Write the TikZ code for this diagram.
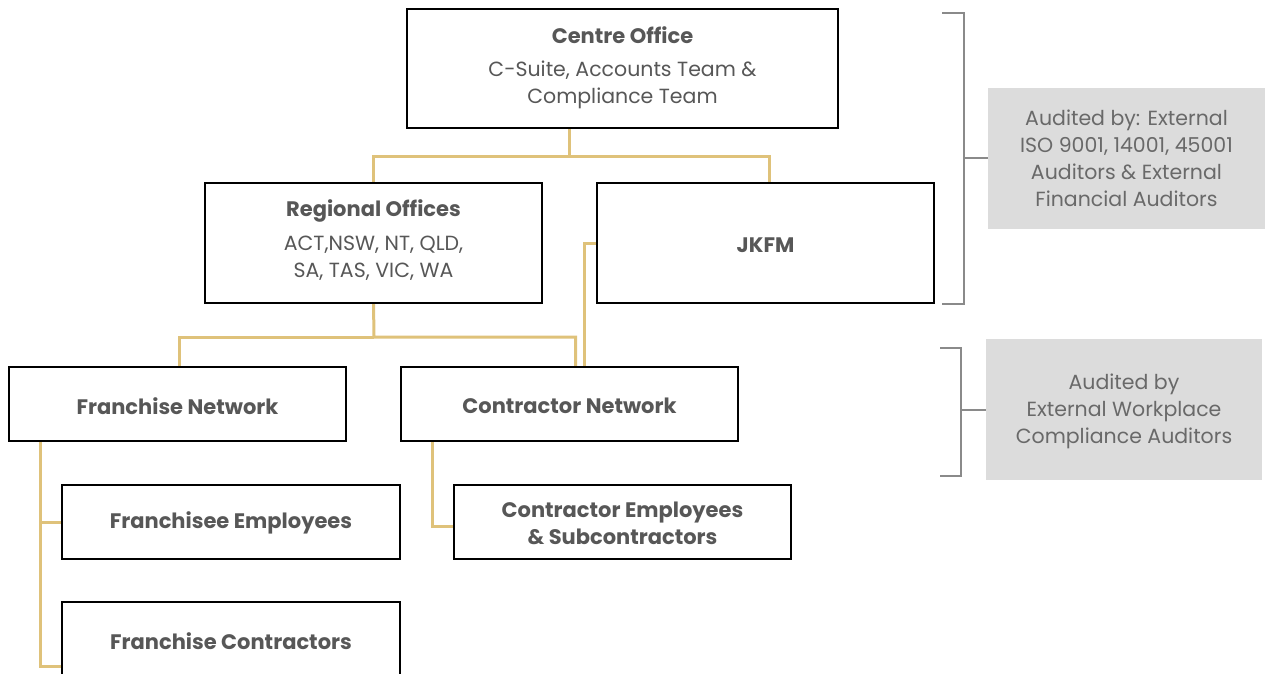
\documentclass[tikz,border=0pt]{standalone}
\usepackage{fontspec}
\setmainfont{Poppins}
\definecolor{gold}{HTML}{DFC27A}
\definecolor{txtgray}{HTML}{575757}
\definecolor{lightgray}{HTML}{696969}
\definecolor{auditfill}{HTML}{DCDCDC}
\definecolor{brgray}{HTML}{8A8A8A}
\begin{document}
\begin{tikzpicture}[x=1pt,y=-1pt,
  box/.style={draw=black, line width=1.1pt, fill=white, inner sep=0pt, outer sep=0pt, anchor=north west},
  audit/.style={fill=auditfill, inner sep=0pt, outer sep=0pt, anchor=north west},
  regtxt/.style={text=txtgray, align=center, font=\fontsize{20.5}{27}\selectfont},
  boldtxt/.style={text=txtgray, align=center, font=\fontsize{21}{27}\bfseries\selectfont},
  audtxt/.style={text=lightgray, align=center, font=\fontsize{20.5}{27}\selectfont},
  conn/.style={draw=gold, line width=3pt},
  bracketline/.style={draw=brgray, line width=1.3pt}]
\useasboundingbox (0,0) rectangle (1266,673);
\clip (0,0) rectangle (1266,673);
% junction coordinates
\coordinate (c1) at (569,156);
\coordinate (c2) at (374,337);
\coordinate (fj) at (40,666);
\coordinate (fe) at (40,522);
\coordinate (ce) at (432,526);
% boxes
\node[box, minimum width=431pt, minimum height=119pt] (centre) at (407,9) {};
\node[box, minimum width=337pt, minimum height=120pt] (regional) at (205,183) {};
\node[box, minimum width=337pt, minimum height=120pt] (jkfm) at (597,183) {};
\node[box, minimum width=337pt, minimum height=74pt] (franchise) at (9,367) {};
\node[box, minimum width=337pt, minimum height=74pt] (contractor) at (401,367) {};
\node[box, minimum width=338pt, minimum height=74pt] (femp) at (62,485) {};
\node[box, minimum width=337pt, minimum height=74pt] (cemp) at (454,485) {};
\node[box, minimum width=338pt, minimum height=100pt] (fcon) at (62,602) {};
% texts
\node[boldtxt] (centret) at (622.5,35) {Centre Office};
\node[regtxt] (centres) at (622.5,85) {C-Suite, Accounts Team \&\\Compliance Team};
\node[boldtxt] (regionalt) at (373.5,211) {Regional Offices};
\node[regtxt] (regionals) at (373.5,258) {ACT,NSW, NT, QLD,\\SA, TAS, VIC, WA};
\node[boldtxt] (jkfmt) at (765.5,245) {JKFM};
\node[boldtxt] (franchiset) at (177.5,406) {Franchise Network};
\node[boldtxt] (contractort) at (569.5,406) {Contractor Network};
\node[boldtxt] (fempt) at (231,523) {Franchisee Employees};
\node[boldtxt] (cempt) at (622.5,523) {Contractor Employees\\\& Subcontractors};
\node[boldtxt] (fcont) at (231,641) {Franchise Contractors};
% gold connectors
\draw[conn] (c1 |- centre.south) -- (c1) -| (regional.north);
\draw[conn] (c1) -| ([xshift=4pt]jkfm.north);
\draw[conn] (regional.south) -- (c2) -| ([xshift=6pt]contractor.north);
\draw[conn] (c2) -| ([xshift=1.5pt]franchise.north);
\draw[conn] (jkfm.west) -| ([xshift=14.5pt]contractor.north);
\draw[conn] (fe |- franchise.south) -- (fj) -- (fj -| fcon.west);
\draw[conn] (fe) -- (fe -| femp.west);
\draw[conn] (ce |- contractor.south) -- (ce) -- (ce -| cemp.west);
% borders over connector ends
\foreach \n in {centre,regional,jkfm,franchise,contractor,femp,cemp,fcon}
  \draw[black, line width=1.1pt] (\n.north west) rectangle (\n.south east);
% audit boxes
\node[audit, minimum width=277pt, minimum height=141pt] (aud1) at (988,88) {};
\node[audtxt] (aud1t) at (1126.5,158) {Audited by: External\\ISO 9001, 14001, 45001\\Auditors \& External\\Financial Auditors};
\node[audit, minimum width=276pt, minimum height=141pt] (aud2) at (986,339) {};
\node[audtxt] (aud2t) at (1124,411) {Audited by\\External Workplace\\Compliance Auditors};
% brackets
\coordinate (b1t) at (942,13);
\coordinate (b1b) at (942,304);
\coordinate (b1m) at (964,158);
\coordinate (b2t) at (940,348);
\coordinate (b2b) at (940,476);
\coordinate (b2m) at (961,410);
\draw[bracketline] (b1t) -| (b1m) |- (b1b);
\draw[bracketline] (b1m) -- (aud1.west |- b1m);
\draw[bracketline] (b2t) -| (b2m) |- (b2b);
\draw[bracketline] (b2m) -- (aud2.west |- b2m);
\end{tikzpicture}
\end{document}
